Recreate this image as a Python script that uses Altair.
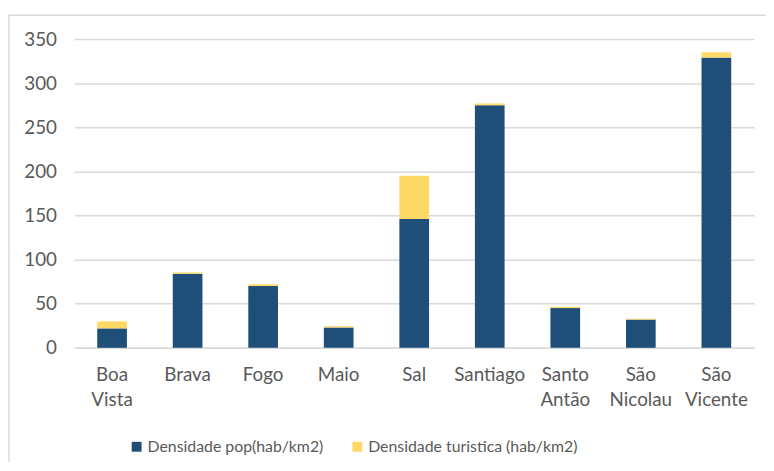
import altair as alt
import pandas as pd

islands = ["Boa Vista", "Brava", "Fogo", "Maio", "Sal", "Santiago",
           "Santo Antão", "São Nicolau", "São Vicente"]
pop = [22, 84, 70, 23, 146, 275, 45, 32, 329]
tur = [8, 1.5, 2, 1.5, 49, 2, 1.5, 1, 6]
series = ["Densidade pop(hab/km2)", "Densidade turistica (hab/km2)"]
colors = ["#1f4e79", "#ffd966"]

rows = []
for i, isl in enumerate(islands):
    rows.append({"ilha": isl, "serie": series[0], "valor": pop[i], "ord": 0})
    rows.append({"ilha": isl, "serie": series[1], "valor": tur[i], "ord": 1})
df = pd.DataFrame(rows)

FONT = "Lato"
GREY = "#595959"

bars = alt.Chart(df).mark_bar(size=30).encode(
    x=alt.X("ilha:N", sort=islands, title=None,
            scale=alt.Scale(paddingInner=0.6, paddingOuter=0.3),
            axis=alt.Axis(labelAngle=0, labelExpr="split(datum.label, ' ')",
                          ticks=False, domainColor="#d9d9d9", domainWidth=1.5,
                          labelPadding=18, labelLineHeight=25,
                          labelBaseline="top")),
    y=alt.Y("valor:Q", stack="zero", title=None,
            scale=alt.Scale(domain=[0, 350]),
            axis=alt.Axis(values=[0, 50, 100, 150, 200, 250, 300, 350],
                          domain=False, ticks=False, labelPadding=18,
                          gridColor="#d9d9d9", gridWidth=1.5)),
    color=alt.Color("serie:N", sort=series,
                    scale=alt.Scale(domain=series, range=colors),
                    legend=alt.Legend(title=None, orient="none", direction="horizontal",
                                      legendX=55, legendY=404, symbolType="square",
                                      symbolSize=100, symbolStrokeWidth=0,
                                      columnPadding=26, labelFontSize=16,
                                      labelOffset=3, labelLimit=500)),
    order=alt.Order("ord:Q"),
)

border = alt.Chart(pd.DataFrame({"a": [0]})).mark_rect(
    fill=None, stroke="#d9d9d9", strokeWidth=1.5
).encode(x=alt.value(-66), x2=alt.value(720), y=alt.value(-24), y2=alt.value(500))

chart = alt.layer(border, bars).properties(
    width=687, height=312,
    autosize=alt.AutoSizeParams(type="none"),
    padding={"left": 67, "top": 29, "right": 12, "bottom": 113},
).configure_view(stroke=None).configure_axis(
    labelFont=FONT, labelFontSize=19, labelColor=GREY
).configure_legend(labelFont=FONT, labelColor=GREY)

chart.save("out.html", embed_options={"renderer": "svg", "actions": False})
